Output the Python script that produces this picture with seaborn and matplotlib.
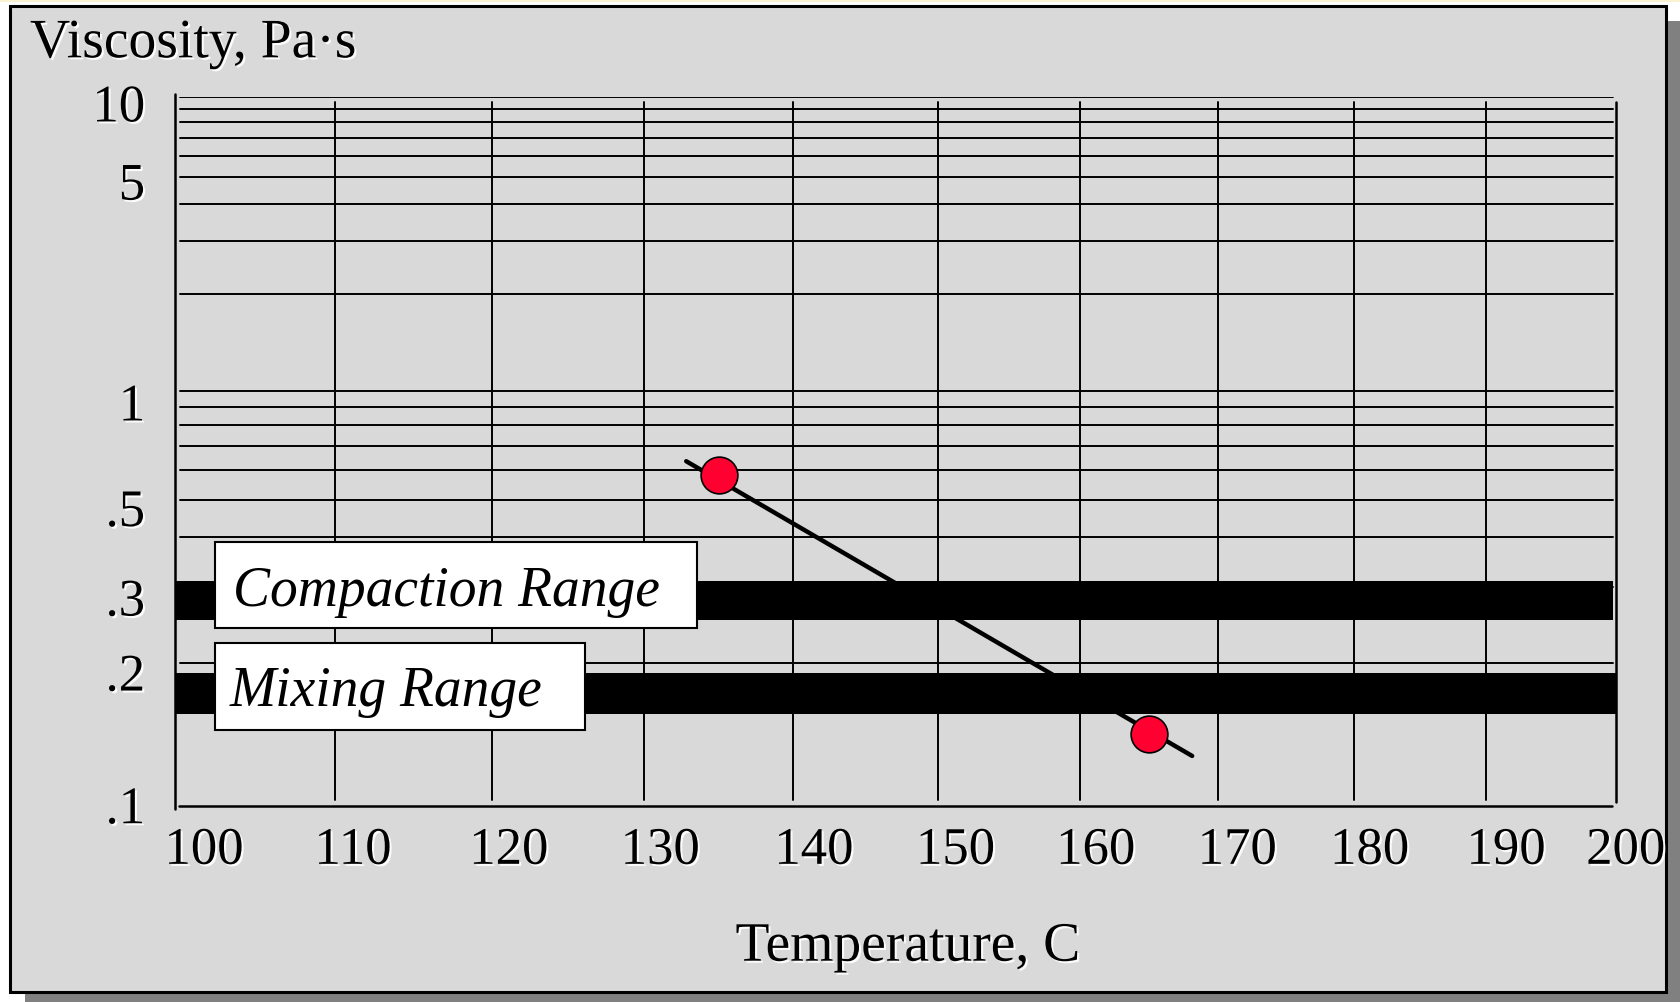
import numpy as np
import matplotlib
matplotlib.use("Agg")
import matplotlib.pyplot as plt
import matplotlib.patheffects as pe
from matplotlib.patches import Rectangle
from matplotlib.transforms import ScaledTranslation
from matplotlib.ticker import NullLocator
import seaborn as sns

# values: temperature in C, viscosity in Pa s
test_temp = [135, 165]
test_visc = [0.58, 0.14]
line_temp = [132.8, 168.1]
line_visc = [0.634, 0.126]

compaction_range = (0.25, 0.31)
mixing_range = (0.154, 0.19)

x_ticks = [100, 110, 120, 130, 140, 150, 160, 170, 180, 190, 200]
x_labels = [str(t) for t in x_ticks]
y_ticks = [10, 5, 1, 0.5, 0.3, 0.2, 0.1]
y_labels = ["10", "5", "1", ".5", ".3", ".2", ".1"]
y_grid = [0.2, 0.3, 0.4, 0.5, 0.6, 0.7, 0.8, 0.9, 1, 2, 3, 4, 5, 6, 7, 8, 9, 10]

W, H = 1680, 1003
# hand placed label nudges in the original slide (pixels)
x_label_shift = [29, 17.5, 17, 16, 21, 17.5, 16, 19, 16, 20, 10]
y_label_shift = [5.6, 3.8, 10.5, 8, 9.8, 9.4, -1.3]


# log of absolute temperature / log-log of viscosity (in mPa s)
def temp_fwd(t):
    with np.errstate(all="ignore"):
        return np.log10(np.asarray(t, dtype=float) + 273.15)


def temp_inv(u):
    return 10 ** np.asarray(u, dtype=float) - 273.15


def visc_fwd(v):
    with np.errstate(all="ignore"):
        return np.log10(np.log10(np.asarray(v, dtype=float) * 1000))


def visc_inv(u):
    with np.errstate(all="ignore"):
        return 10 ** (10 ** np.asarray(u, dtype=float)) / 1000


sns.set_theme(style="white")
plt.rcParams["font.family"] = ["Liberation Serif", "DejaVu Serif"]
plt.rcParams["text.color"] = "black"

glow = [pe.withSimplePatchShadow(offset=(1.5, -1.5), shadow_rgbFace="white", alpha=0.9)]

fig = plt.figure(figsize=(W / 100, H / 100), dpi=100)
fig.patch.set_facecolor("white")

# slide frame with drop shadow
fig.add_artist(Rectangle((0, 1 - 2.5 / H), 1, 2.5 / H, transform=fig.transFigure,
                         fc="#fbf3cf", ec="none", zorder=-3))
fig.add_artist(Rectangle((25 / W, 1 - 1010 / H), 1657 / W, 988 / H, transform=fig.transFigure,
                         fc="#808080", ec="none", zorder=-2))
fig.add_artist(Rectangle((10 / W, 1 - 993 / H), 1656 / W, 985.7 / H, transform=fig.transFigure,
                         fc="#d9d9d9", ec="black", lw=2.2, zorder=-1))

ax = fig.add_axes([175 / W, 1 - 807 / H, 1440.7 / W, 708.7 / H])
ax.set_facecolor("none")
ax.set_xscale("function", functions=(temp_fwd, temp_inv))
ax.set_yscale("function", functions=(visc_fwd, visc_inv))
for s in ax.spines.values():
    s.set_visible(False)

# grid
for v in y_grid:
    ax.axhline(v, xmin=5 / 1440.7, xmax=1438 / 1440.7, color="black", lw=1.4, zorder=1)
ax.axhline(0.1, xmin=4 / 1440.7, xmax=1437 / 1440.7, color="black", lw=1.8, zorder=1, clip_on=False)
for t in x_ticks[1:-1]:
    ax.axvline(t, ymin=0.0085, ymax=0.9938, color="black", lw=1.4, zorder=1)
ax.axvline(x_ticks[0], ymin=-0.004, ymax=1.004, color="black", lw=1.8, zorder=1, clip_on=False)
ax.axvline(x_ticks[-1], ymin=0.0056, ymax=0.9938, color="black", lw=1.8, zorder=1, clip_on=False)

# target ranges
ax.axhspan(*compaction_range, xmin=0.0007, xmax=1437.7 / 1440.7, color="black", lw=0, zorder=2)
ax.axhspan(*mixing_range, xmin=0.0007, xmax=1.0, color="black", lw=0, zorder=2)

sns.lineplot(x=line_temp, y=line_visc, ax=ax, color="black", lw=3.2,
             estimator=None, sort=False, zorder=4)
sns.scatterplot(x=test_temp, y=test_visc, ax=ax, s=700, color="#ff0030",
                edgecolor="black", linewidth=1.2, zorder=5, legend=False)

ax.set_xlim(100, 200)
ax.set_ylim(0.1, 10)
ax.set_xlabel("")
ax.set_ylabel("")
ax.set_xticks(x_ticks, x_labels)
ax.set_yticks(y_ticks, y_labels)
ax.xaxis.set_minor_locator(NullLocator())
ax.yaxis.set_minor_locator(NullLocator())
ax.tick_params(axis="x", length=0, labelsize=38, pad=15, labelcolor="black")
ax.tick_params(axis="y", length=0, labelsize=38, pad=21.5, labelcolor="black")
for lab, dx in zip(ax.get_xticklabels(), x_label_shift):
    lab.set_transform(lab.get_transform() + ScaledTranslation(dx / 100, 0, fig.dpi_scale_trans))
    lab.set_path_effects(glow)
for lab, dy in zip(ax.get_yticklabels(), y_label_shift):
    lab.set_transform(lab.get_transform() + ScaledTranslation(0, -dy / 100, fig.dpi_scale_trans))
    lab.set_path_effects(glow)

# range labels
boxes = [(215, 542.7, 697.3, 629.3, 233, 606, "Compaction Range"),
         (215, 644, 585, 731, 230, 706, "Mixing Range")]
for x0, y0, x1, y1, tx, ty, txt in boxes:
    ax.add_patch(Rectangle((x0 / W, 1 - y1 / H), (x1 - x0) / W, (y1 - y0) / H,
                           transform=fig.transFigure, fc="white", ec="black", lw=1.5,
                           zorder=6, clip_on=False))
    ax.text(tx / W, 1 - ty / H, txt, transform=fig.transFigure, fontsize=40,
            style="italic", ha="left", va="baseline", color="black", zorder=7)

fig.text(30 / W, 1 - 58.3 / H, "Viscosity, Pa·s", fontsize=40, ha="left",
         va="baseline", color="black", path_effects=glow)
fig.text(907.5 / W, 1 - 961.7 / H, "Temperature, C", fontsize=40, ha="center",
         va="baseline", color="black", path_effects=glow)

fig.savefig("out.png", dpi=100, facecolor=fig.get_facecolor())
